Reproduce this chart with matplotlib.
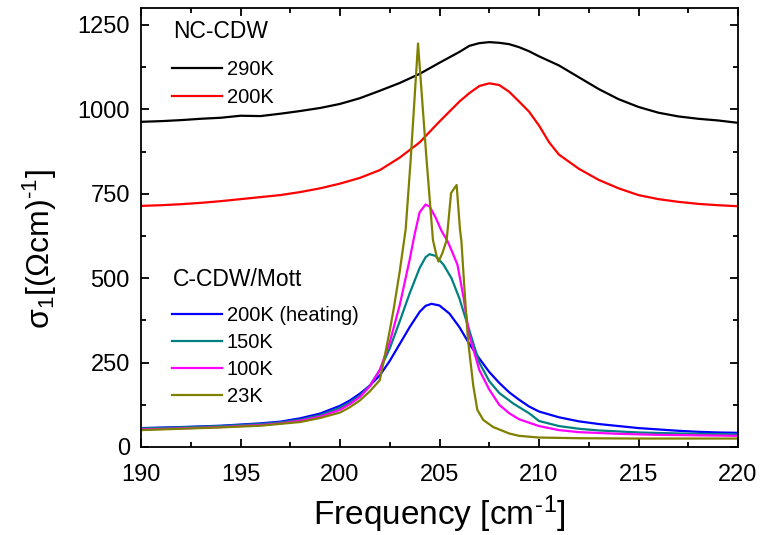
#!/usr/bin/env python3
# optical conductivity sigma_1 around the 205 cm^-1 phonon: NC-CDW vs C-CDW/Mott phase
import numpy as np
import matplotlib
matplotlib.use("Agg")
import matplotlib.pyplot as plt
from matplotlib.ticker import MultipleLocator

plt.rcParams["font.family"] = ["Liberation Sans", "DejaVu Sans"]
plt.rcParams["mathtext.fontset"] = "custom"
plt.rcParams["mathtext.rm"] = "Liberation Sans"
plt.rcParams["mathtext.it"] = "Liberation Sans:italic"

# --- NC-CDW ---
freq_290 = [190, 191, 192, 193, 194, 195, 196, 197, 198, 199, 200, 201, 202, 203, 204, 205,
            206, 206.5, 207, 207.5, 208, 208.5, 209, 209.5, 210, 211, 212, 213, 214, 215,
            216, 217, 218, 219, 220]
sig_290 = [963, 965, 968, 972, 975, 981, 980, 987, 995, 1004, 1016, 1033, 1055, 1078, 1105, 1138,
           1170, 1188, 1196, 1199, 1197, 1193, 1184, 1172, 1157, 1130, 1095, 1060, 1030, 1007,
           990, 979, 972, 967, 960]

freq_200 = [190, 191, 192, 193, 194, 195, 196, 197, 198, 199, 200, 201, 202, 203, 204, 205,
            206, 206.5, 207, 207.5, 208, 208.5, 209, 209.5, 210, 210.5, 211, 212, 213, 214,
            215, 216, 217, 218, 219, 220]
sig_200 = [714, 716, 719, 723, 728, 734, 740, 746, 755, 766, 780, 797, 820, 857, 902, 964,
           1023, 1048, 1069, 1077, 1072, 1052, 1023, 993, 952, 903, 866, 824, 791, 766,
           746, 734, 726, 720, 716, 713]

# --- C-CDW / Mott ---
freq_200h = [190, 192, 194, 196, 197, 198, 199, 200, 200.5, 201, 201.5, 202, 202.5, 203, 203.5,
             204, 204.3, 204.6, 205, 205.5, 206, 206.5, 207, 207.5, 208, 208.5, 209, 209.5, 210,
             211, 212, 213, 214, 215, 216, 217, 218, 219, 220]
sig_200h = [56, 59, 63, 70, 75, 85, 99, 122, 138, 158, 182, 212, 255, 305, 355,
            400, 418, 424, 419, 395, 355, 305, 262, 222, 190, 162, 140, 120, 105,
            88, 76, 68, 62, 56, 52, 48, 45, 43, 42]

freq_150 = [190, 192, 194, 196, 197, 198, 199, 200, 200.5, 201, 201.5, 202, 202.5, 203, 203.5,
            204, 204.3, 204.5, 204.8, 205.2, 205.6, 206, 206.5, 207, 207.5, 208, 208.7, 209,
            209.5, 210, 211, 212, 213, 214, 215, 217, 220]
sig_150 = [55, 58, 62, 68, 73, 81, 94, 116, 132, 152, 182, 228, 292, 372, 455,
           530, 562, 571, 566, 540, 500, 440, 345, 250, 195, 160, 129, 118,
           100, 77, 62, 54, 49, 46, 43, 40, 37]

freq_100 = [190, 192, 194, 196, 197, 198, 199, 200, 200.5, 201, 201.5, 202, 202.5, 203, 203.5,
            203.75, 204, 204.3, 204.5, 204.8, 205.1, 205.4, 205.6, 205.9, 206.2, 206.5, 207,
            207.5, 208, 208.5, 209, 210, 211, 212, 214, 216, 220]
sig_100 = [52, 55, 59, 65, 70, 78, 90, 110, 127, 148, 180, 228, 310, 420, 555,
           630, 695, 718, 712, 680, 640, 610, 583, 540, 445, 330, 228,
           170, 125, 100, 82, 62, 50, 44, 39, 36, 33]

freq_23 = [190, 192, 194, 196, 198, 199, 200, 200.5, 201, 201.5, 202, 202.2, 202.5, 202.7, 203,
           203.3, 203.55, 203.92, 204.35, 204.67, 204.86, 204.95, 205.15, 205.36, 205.58, 205.86,
           206.03, 206.1, 206.25, 206.43, 206.7, 206.9, 207.2, 207.7, 208.5, 209, 210, 212,
           215, 220]
sig_23 = [50, 54, 58, 63, 74, 86, 102, 118, 138, 165, 198, 255, 345, 410, 520,
          645, 850, 1195, 850, 613, 564, 549, 575, 613, 752, 776,
          643, 610, 470, 317, 180, 110, 80, 59, 40, 33, 28, 26,
          25, 25]

nc_series = [(freq_290, sig_290, "black", "290K"),
             (freq_200, sig_200, "red", "200K")]
c_series = [(freq_200h, sig_200h, "blue", "200K (heating)"),
            (freq_150, sig_150, "teal", "150K"),
            (freq_100, sig_100, "magenta", "100K"),
            (freq_23, sig_23, "olive", "23K")]


def make_plot(out_path="out.png"):
    fig = plt.figure(figsize=(7.61, 5.35), dpi=100)
    ax = fig.add_axes([0.1853, 0.1645, 0.7845, 0.8205])

    nc_lines = [ax.plot(x, y, color=c, lw=1.6, label=lab)[0] for x, y, c, lab in nc_series]
    c_lines = [ax.plot(x, y, color=c, lw=1.6, label=lab)[0] for x, y, c, lab in c_series]

    ax.set_xlim(190, 220)
    ax.set_ylim(0, 1300)
    ax.xaxis.set_major_locator(MultipleLocator(5))
    ax.xaxis.set_minor_locator(MultipleLocator(2.5))
    ax.yaxis.set_major_locator(MultipleLocator(250))
    ax.yaxis.set_minor_locator(MultipleLocator(125))
    ax.tick_params(which="both", direction="in", top=True, right=True, width=1.3)
    ax.tick_params(which="major", length=6, labelsize=17)
    ax.tick_params(which="minor", length=3.5)
    ax.tick_params(axis="x", pad=12)
    ax.tick_params(axis="y", pad=8)
    for s in ax.spines.values():
        s.set_linewidth(1.3)

    ax.set_xlabel("Frequency [cm$\\mathregular{^{\u2010}}$$\\mathregular{^{1}}$]", fontsize=24, labelpad=6)
    fig.text(40 / 761, 1 - 249 / 535,
             "σ$\\mathregular{_1}$[(Ωcm)$\\mathregular{^{\u20101}}$]",
             fontsize=23, rotation=90, ha="center", va="center")

    # group titles
    ax.text(0.053, 0.9317, "NC-CDW", transform=ax.transAxes, fontsize=16.5, va="baseline")
    ax.text(0.053, 0.3667, "C-CDW/Mott", transform=ax.transAxes, fontsize=16.5, va="baseline")

    leg_kw = dict(frameon=False, fontsize=14.5, handlelength=2.48,
                  handletextpad=0.25, labelspacing=0.4, borderpad=0, borderaxespad=0,
                  loc="center left")
    leg1 = ax.legend(handles=nc_lines, bbox_to_anchor=(0.0514, 0.828), **leg_kw)
    ax.add_artist(leg1)
    ax.legend(handles=c_lines, bbox_to_anchor=(0.0514, 0.2064), **leg_kw)

    fig.savefig(out_path, dpi=100)
    plt.close(fig)


if __name__ == "__main__":
    make_plot()
